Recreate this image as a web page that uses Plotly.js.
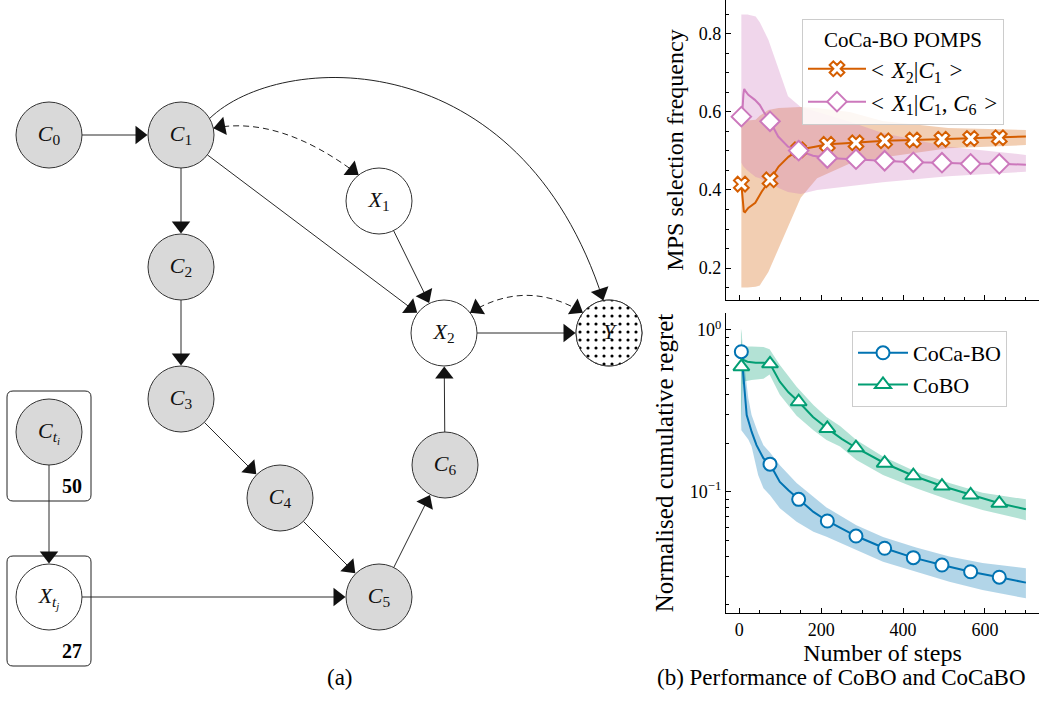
<!DOCTYPE html>
<html><head><meta charset="utf-8">
<script src="https://cdn.plot.ly/plotly-3.0.1.min.js"></script>
<style>html,body{margin:0;padding:0;background:#fff;} #chart{width:1039px;height:712px;}</style>
</head><body><div id="chart"></div>
<script>
// ===== Panel (b), top: MPS selection frequency =====
const x2c1Steps = [5, 8, 11, 14, 22, 39, 55, 75, 96, 120, 145, 185, 215, 250, 285, 355, 425, 495, 565, 635, 700];
const x2c1Freq  = [0.415, 0.37, 0.345, 0.343, 0.354, 0.367, 0.396, 0.426, 0.46, 0.485, 0.503, 0.511, 0.517, 0.519, 0.521, 0.526, 0.528, 0.530, 0.532, 0.534, 0.537];
const x1c1c6Steps = [5, 8, 10, 12, 16, 22, 38, 50, 60, 75, 95, 119, 145, 180, 215, 250, 285, 355, 425, 495, 565, 635, 700];
const x1c1c6Freq  = [0.588, 0.61, 0.645, 0.659, 0.652, 0.644, 0.631, 0.618, 0.60, 0.576, 0.537, 0.511, 0.501, 0.488, 0.482, 0.48, 0.479, 0.475, 0.471, 0.470, 0.467, 0.467, 0.465];
const mpsBandSteps = [5, 10, 20, 40, 50, 71, 96, 119, 150, 190, 270, 350, 510, 700];
const x2c1Upper   = [0.57, 0.575, 0.578, 0.58, 0.59, 0.605, 0.61, 0.612, 0.613, 0.61, 0.60, 0.577, 0.559, 0.554];
const x2c1Lower   = [0.15, 0.15, 0.15, 0.152, 0.155, 0.19, 0.25, 0.31, 0.38, 0.43, 0.468, 0.483, 0.507, 0.515];
const x1c1c6Upper = [0.85, 0.85, 0.85, 0.845, 0.83, 0.785, 0.708, 0.64, 0.613, 0.60, 0.575, 0.546, 0.511, 0.49];
const x1c1c6Lower = [0.47, 0.46, 0.45, 0.433, 0.43, 0.418, 0.405, 0.395, 0.39, 0.40, 0.41, 0.42, 0.435, 0.447];

// ===== Panel (b), bottom: normalised cumulative regret =====
const cocaboSteps  = [5, 8, 10, 14, 18, 24, 30, 42, 59, 75, 99, 120, 145, 181, 215, 250, 285, 355, 425, 495, 565, 635, 700];
const cocaboRegret = [0.734, 0.6, 0.479, 0.38, 0.298, 0.265, 0.235, 0.194, 0.161, 0.148, 0.115, 0.102, 0.0897, 0.075, 0.0659, 0.059, 0.0532, 0.0447, 0.0391, 0.0352, 0.0320, 0.0296, 0.0274];
const cocaboBandSteps = [5, 8, 14, 22, 30, 46, 59, 75, 99, 140, 181, 213, 286, 351, 432, 513, 594, 700];
const cocaboUpper = [0.88, 0.75, 0.55, 0.378, 0.298, 0.23, 0.194, 0.175, 0.146, 0.113, 0.093, 0.08, 0.062, 0.0525, 0.0452, 0.0398, 0.0362, 0.0336];
const cocaboLower = [0.24, 0.235, 0.225, 0.21, 0.19, 0.127, 0.105, 0.095, 0.0789, 0.0653, 0.0565, 0.0527, 0.0436, 0.0369, 0.032, 0.0277, 0.0247, 0.0219];
const coboSteps  = [5, 7, 10, 20, 40, 60, 75, 99, 120, 145, 180, 215, 250, 285, 355, 425, 495, 565, 635, 700];
const coboRegret = [0.593, 0.68, 0.652, 0.637, 0.628, 0.628, 0.618, 0.479, 0.412, 0.36, 0.29, 0.246, 0.212, 0.187, 0.150, 0.1255, 0.1084, 0.0954, 0.0848, 0.0778];
const coboBandSteps = [4, 6, 8, 12, 30, 59, 74, 99, 140, 181, 213, 246, 286, 351, 432, 513, 594, 700];
const coboUpper = [1.02, 0.95, 0.8, 0.79, 0.79, 0.785, 0.76, 0.608, 0.446, 0.344, 0.29, 0.255, 0.209, 0.165, 0.133, 0.113, 0.0985, 0.0897];
const coboLower = [0.235, 0.3, 0.46, 0.48, 0.49, 0.5, 0.53, 0.397, 0.295, 0.24, 0.209, 0.19, 0.157, 0.127, 0.105, 0.0889, 0.0771, 0.0667];

const markerSteps = [5, 75, 145, 215, 285, 355, 425, 495, 565, 635];

// ===== Panel (a): causal graph =====
const nodeNames  = ['C0', 'C1', 'C2', 'C3', 'C4', 'C5', 'C6', 'X1', 'X2', 'Y', 'Cti', 'Xtj'];
const nodeX      = [49, 181, 181, 181, 280, 379, 445, 379, 444, 609, 49, 49];
const nodeY      = [135, 135, 267, 399, 498, 597, 465, 201, 333, 333, 432, 597];
const nodeLabels = ['<i>C</i><sub>0</sub>', '<i>C</i><sub>1</sub>', '<i>C</i><sub>2</sub>', '<i>C</i><sub>3</sub>',
                    '<i>C</i><sub>4</sub>', '<i>C</i><sub>5</sub>', '<i>C</i><sub>6</sub>', '<i>X</i><sub>1</sub>',
                    '<i>X</i><sub>2</sub>', '<i>Y</i>', '<i>C</i><sub><i>t</i><sub><i>i</i></sub></sub>',
                    '<i>X</i><sub><i>t</i><sub><i>j</i></sub></sub>'];
const nodeObserved = [true, true, true, true, true, true, true, false, false, false, true, false];
const edges = [['C0','C1'], ['C1','C2'], ['C2','C3'], ['C3','C4'], ['C4','C5'], ['C5','C6'], ['C6','X2'],
               ['X1','X2'], ['C1','X2'], ['X2','Y'], ['Cti','Xtj'], ['Xtj','C5']];
const plates = [{node: 'Cti', label: '50'}, {node: 'Xtj', label: '27'}];

// ---- styles ----
const ORANGE = '#d55e00', PINK = '#cc78bc', BLUE = '#0173b2', GREEN = '#029e73';
const FONT = 'Liberation Serif';
const R = 33;          // node radius (px)
const HEAD_R = 8;      // arrowhead marker half-size (px): tip-to-base = 1.5 * HEAD_R
const ns = {}; nodeNames.forEach((n, i) => ns[n] = i);
function onCircle(name, deg) { const i = ns[name], a = deg * Math.PI / 180; return [nodeX[i] + R * Math.cos(a), nodeY[i] + R * Math.sin(a)]; }
// curved edges: endpoints as angles on node circles, control offsets (px) relative to endpoints
const curves = [
  {from: 'C1', a0: -30, to: 'Y', a1: -100, c1: [70, -68], c2: [-83, -260], dash: 'solid', startHead: false},
  {from: 'C1', a0: -12, to: 'X1', a1: -128, c1: [44.5, -8.7], c2: [-52.5, -40], dash: '6px,4px', startHead: true},
  {from: 'X2', a0: -38, to: 'Y', a1: -142, c1: [37.7, -23.1], c2: [-37.7, -23.1], dash: '6px,4px', startHead: true}
];

function band(steps, lo, hi, color, xa, ya) {
  return [
    {x: steps, y: hi, xaxis: xa, yaxis: ya, mode: 'lines', line: {width: 0, color: color}, hoverinfo: 'skip', showlegend: false},
    {x: steps, y: lo, xaxis: xa, yaxis: ya, mode: 'lines', line: {width: 0, color: color}, fill: 'tonexty', fillcolor: color, hoverinfo: 'skip', showlegend: false}
  ];
}
function line(steps, vals, color, xa, ya) {
  return {x: steps, y: vals, xaxis: xa, yaxis: ya, mode: 'lines', line: {color: color, width: 2}, showlegend: false, hoverinfo: 'skip'};
}
function marks(steps, vals, color, symbol, size, xa, ya) {
  const xs = [], ys = [];
  steps.forEach((s, i) => { if (markerSteps.includes(s)) { xs.push(s); ys.push(vals[i]); } });
  return {x: xs, y: ys, xaxis: xa, yaxis: ya, mode: 'markers', cliponaxis: false,
          marker: {symbol: symbol, size: size, color: 'white', line: {color: color, width: 2}}, showlegend: false, hoverinfo: 'skip'};
}
function legendItem(name, color, symbol, size, xa, ya, legend) {
  return {x: [null], y: [null], xaxis: xa, yaxis: ya, mode: 'lines+markers', name: name, legend: legend,
          line: {color: color, width: 2}, marker: {symbol: symbol, size: size, color: 'white', line: {color: color, width: 2}}};
}

const traces = [];
traces.push(...band(mpsBandSteps, x2c1Lower, x2c1Upper, 'rgba(213,94,0,0.3)', 'x', 'y'));
traces.push(...band(mpsBandSteps, x1c1c6Lower, x1c1c6Upper, 'rgba(204,120,188,0.3)', 'x', 'y'));
traces.push(line(x2c1Steps, x2c1Freq, ORANGE, 'x', 'y'));
traces.push(line(x1c1c6Steps, x1c1c6Freq, PINK, 'x', 'y'));
traces.push(marks(x2c1Steps, x2c1Freq, ORANGE, 'x', 13, 'x', 'y'));
traces.push(marks(x1c1c6Steps, x1c1c6Freq, PINK, 'diamond', 15, 'x', 'y'));
traces.push(legendItem('&lt;&#8196;<i>X</i><sub>2</sub>|<i>C</i><sub>1</sub>&#8196;&gt;', ORANGE, 'x', 13, 'x', 'y', 'legend'));
traces.push(legendItem('&lt;&#8196;<i>X</i><sub>1</sub>|<i>C</i><sub>1</sub>, <i>C</i><sub>6</sub>&#8196;&gt;', PINK, 'diamond', 15, 'x', 'y', 'legend'));

traces.push(...band(cocaboBandSteps, cocaboLower, cocaboUpper, 'rgba(1,115,178,0.3)', 'x2', 'y2'));
traces.push(...band(coboBandSteps, coboLower, coboUpper, 'rgba(2,158,115,0.3)', 'x2', 'y2'));
traces.push(line(cocaboSteps, cocaboRegret, BLUE, 'x2', 'y2'));
traces.push(line(coboSteps, coboRegret, GREEN, 'x2', 'y2'));
traces.push(marks(cocaboSteps, cocaboRegret, BLUE, 'circle', 13, 'x2', 'y2'));
traces.push(marks(coboSteps, coboRegret, GREEN, 'triangle-up', 14, 'x2', 'y2'));
traces.push(legendItem('CoCa-BO', BLUE, 'circle', 13, 'x2', 'y2', 'legend2'));
traces.push(legendItem('CoBO', GREEN, 'triangle-up', 14, 'x2', 'y2', 'legend2'));

// ---- graph: edges (shapes) + arrowheads (rotated triangle markers) ----
const shapes = [];
const annotations = [];
const headX = [], headY = [], headAngle = [];
function addHead(tip, ux, uy) {           // (ux,uy): unit vector pointing toward the tip (screen coords, y down)
  headX.push(tip[0] - ux * HEAD_R); headY.push(tip[1] - uy * HEAD_R);
  headAngle.push(Math.atan2(ux, -uy) * 180 / Math.PI);
}
edges.forEach(([f, t]) => {
  const x0 = nodeX[ns[f]], y0 = nodeY[ns[f]], x1 = nodeX[ns[t]], y1 = nodeY[ns[t]];
  const d = Math.hypot(x1 - x0, y1 - y0), ux = (x1 - x0) / d, uy = (y1 - y0) / d;
  const s = [x0 + ux * R, y0 + uy * R], tip = [x1 - ux * (R + 0.5), y1 - uy * (R + 0.5)];
  shapes.push({type: 'line', xref: 'x3', yref: 'y3', x0: s[0], y0: s[1], x1: tip[0] - ux * HEAD_R, y1: tip[1] - uy * HEAD_R,
    line: {color: '#2a2a2a', width: 1}});
  addHead(tip, ux, uy);
});
curves.forEach(cv => {
  const p0 = onCircle(cv.from, cv.a0), p3 = onCircle(cv.to, cv.a1);
  const p1 = [p0[0] + cv.c1[0], p0[1] + cv.c1[1]], p2 = [p3[0] + cv.c2[0], p3[1] + cv.c2[1]];
  shapes.push({type: 'path', xref: 'x3', yref: 'y3', layer: 'below', line: {color: '#222', width: 1, dash: cv.dash},
    path: `M${p0[0]},${p0[1]} C${p1[0]},${p1[1]} ${p2[0]},${p2[1]} ${p3[0]},${p3[1]}`});
  let dx = p3[0] - p2[0], dy = p3[1] - p2[1], d = Math.hypot(dx, dy);
  addHead(p3, dx / d, dy / d);
  if (cv.startHead) { dx = p0[0] - p1[0]; dy = p0[1] - p1[1]; d = Math.hypot(dx, dy); addHead(p0, dx / d, dy / d); }
});
plates.forEach(p => {
  const i = ns[p.node], l = nodeX[i] - 42, r = nodeX[i] + 42, t = nodeY[i] - 41, b = nodeY[i] + 69, c = 6;
  shapes.push({type: 'path', xref: 'x3', yref: 'y3', layer: 'below', line: {color: '#222', width: 1},
    path: `M${l + c},${t} L${r - c},${t} Q${r},${t} ${r},${t + c} L${r},${b - c} Q${r},${b} ${r - c},${b} L${l + c},${b} Q${l},${b} ${l},${b - c} L${l},${t + c} Q${l},${t} ${l + c},${t} Z`});
  annotations.push({xref: 'x3', yref: 'y3', x: nodeX[i] + 23, y: nodeY[i] + 54, text: '<b>' + p.label + '</b>', showarrow: false,
    font: {family: FONT, size: 20, color: '#000'}});
});
// make straight edges sit below nodes
shapes.forEach(s => { if (!s.layer) s.layer = 'below'; });

// graph nodes
traces.push({x: nodeX, y: nodeY, xaxis: 'x3', yaxis: 'y3', mode: 'markers', showlegend: false, hoverinfo: 'skip', cliponaxis: false,
  marker: {symbol: 'circle', size: 2 * R, color: nodeObserved.map(o => o ? '#d9d9d9' : '#ffffff'), line: {color: '#333', width: 1}}});
// dotted outcome node Y (pattern fill)
(function () {
  const cx = [], cy = [];
  for (let k = 0; k <= 72; k++) { const p = onCircle('Y', k * 5); cx.push(p[0]); cy.push(p[1]); }
  traces.push({x: cx, y: cy, xaxis: 'x3', yaxis: 'y3', mode: 'lines', fill: 'toself', showlegend: false, hoverinfo: 'skip',
    line: {color: '#333', width: 1}, fillcolor: '#ffffff',
    fillpattern: {shape: '.', size: 8, solidity: 0.12, fgcolor: '#000000', bgcolor: '#ffffff'}});
})();
traces.push({x: nodeX, y: nodeY, xaxis: 'x3', yaxis: 'y3', mode: 'text', text: nodeLabels, textposition: 'middle center',
  textfont: {family: FONT, size: 22, color: '#111'}, showlegend: false, hoverinfo: 'skip', cliponaxis: false});
traces.push({x: headX, y: headY, xaxis: 'x3', yaxis: 'y3', mode: 'markers', showlegend: false, hoverinfo: 'skip', cliponaxis: false,
  marker: {symbol: 'triangle-up', size: 2 * HEAD_R, angle: headAngle, color: '#111', line: {width: 0}}});

annotations.push({xref: 'paper', yref: 'paper', x: 325 / 1039, y: 1 - 692 / 712, text: '(a)', showarrow: false, font: {family: FONT, size: 23, color: '#000'}});
annotations.push({xref: 'paper', yref: 'paper', x: 655 / 1039, xanchor: 'left', y: 1 - 692 / 712, text: '(b) Performance of CoBO and CoCaBO', showarrow: false, font: {family: FONT, size: 23, color: '#000'}});

const axStyle = {showline: true, linecolor: '#000', linewidth: 1.2, ticks: 'inside', ticklen: 5, tickwidth: 1, tickcolor: '#000',
  showgrid: false, zeroline: false, tickfont: {family: FONT, size: 18, color: '#000'}};
const xDom = [726 / 1039, 1];
const layout = {
  width: 1039, height: 712, margin: {l: 0, r: 0, t: 0, b: 0}, paper_bgcolor: '#fff', plot_bgcolor: 'rgba(0,0,0,0)',
  font: {family: FONT, size: 18, color: '#000'}, showlegend: true,
  xaxis: Object.assign({}, axStyle, {domain: xDom, anchor: 'y', range: [-32.5, 732], tick0: 0, dtick: 200, showticklabels: false,
    minor: {dtick: 50, tick0: 0, ticks: 'inside', ticklen: 3, tickcolor: '#000'}}),
  yaxis: Object.assign({}, axStyle, {domain: [1 - 300 / 712, 1], anchor: 'x', range: [0.118, 0.887], tick0: 0, dtick: 0.2,
    minor: {dtick: 0.05, tick0: 0, ticks: 'inside', ticklen: 3, tickcolor: '#000'},
    title: {text: 'MPS selection frequency', font: {family: FONT, size: 24}, standoff: 8}}),
  xaxis2: Object.assign({}, axStyle, {domain: xDom, anchor: 'y2', range: [-32.5, 732], tick0: 0, dtick: 200,
    minor: {dtick: 50, tick0: 0, ticks: 'inside', ticklen: 3, tickcolor: '#000'},
    title: {text: 'Number of steps', font: {family: FONT, size: 24}, standoff: 4}}),
  yaxis2: Object.assign({}, axStyle, {domain: [1 - 613 / 712, 1 - 313 / 712], anchor: 'x2', type: 'log', range: [-1.75, 0.105],
    tickmode: 'array', tickvals: [0.1, 1], ticktext: ['10<sup>\u22121</sup>', '10<sup>0</sup>'],
    minor: {tickmode: 'array', tickvals: [0.02, 0.03, 0.04, 0.05, 0.06, 0.07, 0.08, 0.09, 0.2, 0.3, 0.4, 0.5, 0.6, 0.7, 0.8, 0.9], ticks: 'inside', ticklen: 3, tickcolor: '#000'},
    title: {text: 'Normalised cumulative regret', font: {family: FONT, size: 25}, standoff: 9}}),
  xaxis3: {domain: [0, 650 / 1039], anchor: 'y3', range: [0, 650], visible: false, fixedrange: true},
  yaxis3: {domain: [0, 1], anchor: 'x3', range: [712, 0], visible: false, fixedrange: true},
  legend: {x: 802 / 1039, y: 1 - 19 / 712, xanchor: 'left', yanchor: 'top', traceorder: 'normal', bgcolor: 'rgba(255,255,255,0.85)', bordercolor: '#cccccc', borderwidth: 1,
    font: {family: FONT, size: 23, color: '#000'}, itemwidth: 58, title: {text: 'CoCa-BO POMPS', side: 'top center', font: {family: FONT, size: 21}}},
  legend2: {x: 852 / 1039, y: 1 - 331 / 712, xanchor: 'left', yanchor: 'top', traceorder: 'normal', bgcolor: 'rgba(255,255,255,0.85)', bordercolor: '#cccccc', borderwidth: 1,
    font: {family: FONT, size: 22, color: '#000'}, itemwidth: 50},
  shapes: shapes, annotations: annotations
};
Plotly.newPlot('chart', traces, layout, {displayModeBar: false, staticPlot: true});
</script></body></html>
